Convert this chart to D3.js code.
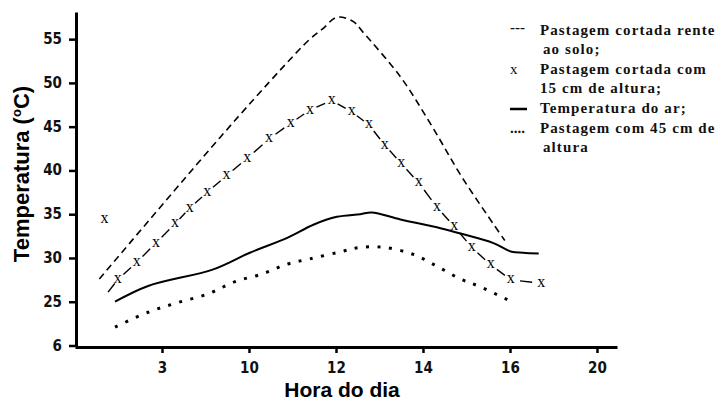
<!DOCTYPE html>
<html>
<head>
<meta charset="utf-8">
<script src="https://cdn.jsdelivr.net/npm/d3@7"></script>
<style>
  body { margin: 0; background: #fff; }
  .tick text { font-family: "Liberation Sans Narrow", "DejaVu Sans Condensed", sans-serif; font-weight: bold; font-size: 15px; fill: #111; }
</style>
</head>
<body>
<div class="CHART"></div>
<script>
// x axis is drawn in tick "slots" (the printed hour labels are not evenly spaced in value)
var slotTicks = [0, 1, 2, 3, 4, 5];
var slotLabels = ["3", "10", "12", "14", "16", "20"];
var tempTicks = [20, 25, 30, 35, 40, 45, 50, 55];
var tempLabels = ["6", "25", "30", "35", "40", "45", "50", "55"];

// Pastagem cortada rente ao solo (dashed)
var renteSlot = [-0.72, 0.67, 1.39, 1.70, 1.85, 2.01, 2.20, 2.31, 2.74, 3.10, 3.45, 3.94];
var renteTemp = [27.6, 43.8, 51.8, 55.0, 56.2, 57.5, 57.0, 55.8, 50.7, 45.1, 39.2, 32.0];

// Pastagem cortada com 15 cm de altura (x markers)
var cm15Slot = [-0.66, -0.51, -0.29, -0.07, 0.15, 0.32, 0.52, 0.74, 0.98, 1.23, 1.48, 1.70,
                1.95, 2.18, 2.38, 2.56, 2.75, 2.95, 3.16, 3.36, 3.56, 3.78, 4.01, 4.36];
var cm15Temp = [34.4, 27.5, 29.5, 31.7, 33.9, 35.7, 37.5, 39.4, 41.4, 43.6, 45.4, 46.9,
                48.0, 46.7, 45.2, 42.9, 40.8, 38.6, 35.8, 33.6, 31.2, 29.2, 27.5, 27.1];
var cm15Start = [-0.62, 26.1]; // where the connecting dashes begin

// Temperatura do ar (solid)
var arSlot = [-0.54, -0.16, 0.59, 1.01, 1.44, 1.74, 2.01, 2.28, 2.41, 2.74, 3.20, 3.43, 3.81, 4.02, 4.15, 4.33];
var arTemp = [25.0, 26.8, 28.7, 30.6, 32.3, 33.8, 34.7, 35.0, 35.2, 34.4, 33.4, 32.8, 31.7, 30.7, 30.6, 30.5];

// Pastagem com 45 cm de altura (dotted)
var cm45Slot = [-0.54, -0.16, 0.18, 0.53, 0.84, 1.16, 1.44, 1.70, 2.05, 2.28, 2.56, 2.89, 3.17, 3.43, 3.66, 3.98];
var cm45Temp = [22.1, 23.8, 24.9, 25.9, 27.3, 28.2, 29.3, 29.9, 30.7, 31.2, 31.2, 30.4, 29.0, 27.6, 26.7, 25.2];

var legendLines = ["Pastagem cortada rente", "ao solo;", "Pastagem cortada com", "15 cm de altura;",
                   "Temperatura do ar;", "Pastagem com 45 cm de", "altura"];

var width = 721, height = 401;

var canvas = d3.select(".CHART").append("svg")
    .attr("width", width)
    .attr("height", height)
    .style("background", "#fff");

var x = d3.scaleLinear().domain([-1, 5.23]).range([75, 617]);
var y = d3.scaleLinear().domain([20, 58.1]).range([345.5, 12]);

function pts(xs, ys) {
    return xs.map(function (d, i) { return [d, ys[i]]; });
}

var line = d3.line()
    .x(function (d) { return x(d[0]); })
    .y(function (d) { return y(d[1]); })
    .curve(d3.curveCatmullRom.alpha(0.5));

// axes
var xAxis = canvas.append("g")
    .attr("transform", "translate(0,347)")
    .call(d3.axisBottom(x).tickValues(slotTicks)
        .tickFormat(function (d, i) { return slotLabels[i]; })
        .tickSize(6).tickSizeOuter(0).tickPadding(9));

var yAxis = canvas.append("g")
    .attr("transform", "translate(76,0)")
    .call(d3.axisLeft(y).tickValues(tempTicks)
        .tickFormat(function (d, i) { return tempLabels[i]; })
        .tickSize(7).tickSizeOuter(0).tickPadding(7));

canvas.selectAll(".domain").attr("stroke", "#000").attr("stroke-width", 3);
canvas.selectAll(".tick line").attr("stroke", "#000").attr("stroke-width", 2.5);
yAxis.selectAll(".tick text").attr("dy", "0.3em");

// series
canvas.append("path")
    .attr("d", line(pts(renteSlot, renteTemp)))
    .attr("fill", "none")
    .attr("stroke", "#000")
    .attr("stroke-width", 1.6)
    .attr("stroke-dasharray", "7,4.5");

canvas.append("path")
    .attr("d", line(pts(arSlot, arTemp)))
    .attr("fill", "none")
    .attr("stroke", "#000")
    .attr("stroke-width", 2);

canvas.append("path")
    .attr("d", line(pts(cm45Slot, cm45Temp)))
    .attr("fill", "none")
    .attr("stroke", "#000")
    .attr("stroke-width", 3)
    .attr("stroke-dasharray", "3,8.5");

// short dashes between the x markers (first marker stands alone)
var p15 = pts(cm15Slot, cm15Temp);
var chain = [cm15Start].concat(p15.slice(1));
for (var k = 0; k < chain.length - 1; k++) {
    var a = chain[k], b = chain[k + 1];
    var t0 = k == 0 ? 0 : 0.3, t1 = 0.7;
    canvas.append("line")
        .attr("x1", x(a[0]) + (x(b[0]) - x(a[0])) * t0)
        .attr("y1", y(a[1]) + (y(b[1]) - y(a[1])) * t0)
        .attr("x2", x(a[0]) + (x(b[0]) - x(a[0])) * t1)
        .attr("y2", y(a[1]) + (y(b[1]) - y(a[1])) * t1)
        .attr("stroke", "#000")
        .attr("stroke-width", 1.4);
}

canvas.selectAll(".mk")
    .data(p15)
    .enter().append("text")
    .attr("class", "mk")
    .attr("x", function (d) { return x(d[0]); })
    .attr("y", function (d) { return y(d[1]) + 3.5; })
    .attr("text-anchor", "middle")
    .attr("font-family", "Liberation Serif, serif")
    .attr("font-size", "16px")
    .attr("fill", "#000")
    .text("x");

// axis titles
canvas.append("text")
    .attr("x", 342)
    .attr("y", 397)
    .attr("text-anchor", "middle")
    .attr("font-family", "Liberation Sans, Arial, sans-serif")
    .attr("font-weight", "bold")
    .attr("font-size", "21px")
    .text("Hora do dia");

var yTitle = canvas.append("text")
    .attr("transform", "translate(29,174) rotate(-90)")
    .attr("text-anchor", "middle")
    .attr("font-family", "Liberation Sans, Arial, sans-serif")
    .attr("font-weight", "bold")
    .attr("font-size", "22px");
yTitle.append("tspan").text("Temperatura (");
yTitle.append("tspan").attr("font-size", "13px").attr("dy", -8).text("o");
yTitle.append("tspan").attr("dy", 8).text("C)");

// legend
var legY = [35, 54, 74, 93, 113, 133, 152];
var legX = [540, 543, 540, 540, 540, 540, 543];
canvas.selectAll(".leg")
    .data(legendLines)
    .enter().append("text")
    .attr("class", "leg")
    .attr("x", function (d, i) { return legX[i]; })
    .attr("y", function (d, i) { return legY[i]; })
    .attr("font-family", "Liberation Serif, serif")
    .attr("font-weight", "bold")
    .attr("font-size", "15px")
    .attr("letter-spacing", "1.1px")
    .attr("fill", "#111")
    .text(function (d) { return d; });

var legSym = [["---", 0], ["x", 2], ["....", 5]];
legSym.forEach(function (s) {
    canvas.append("text")
        .attr("x", 510)
        .attr("y", legY[s[1]] - (s[0] == "---" ? 3 : 0))
        .attr("font-family", "Liberation Serif, serif")
        .attr("font-weight", s[0] == "x" ? "normal" : "bold")
        .attr("font-size", "15px")
        .attr("fill", "#111")
        .text(s[0]);
});
canvas.append("line")
    .attr("x1", 510).attr("x2", 527)
    .attr("y1", legY[4] - 4).attr("y2", legY[4] - 4)
    .attr("stroke", "#000")
    .attr("stroke-width", 2.5);
</script>
</body>
</html>
